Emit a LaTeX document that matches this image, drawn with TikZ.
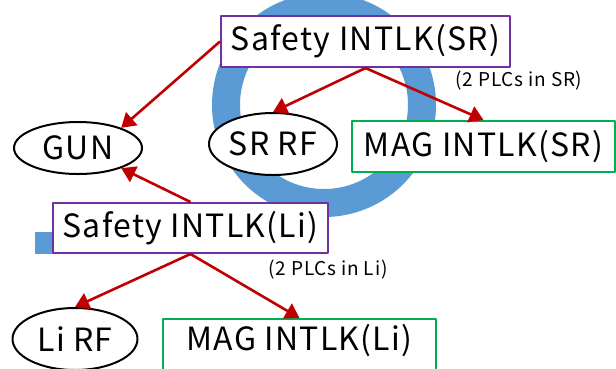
\documentclass[tikz,border=0pt]{standalone}
\usepackage{fontspec}
\setmainfont{Noto Sans CJK JP}[LetterSpace=4]
\usepackage{xcolor}
\definecolor{ringblue}{HTML}{5B9BD5}
\definecolor{plcviolet}{HTML}{7030A0}
\definecolor{maggreen}{HTML}{00B050}
\definecolor{arrred}{HTML}{C00000}
\usetikzlibrary{arrows.meta, positioning, shapes.geometric}

\begin{document}
\begin{tikzpicture}[
  x=1pt, y=-1pt,
  line join=round,
  sfbox/.style={draw=plcviolet, line width=2pt, fill=white, inner sep=0pt,
    font=\fontsize{32}{32}\selectfont},
  magbox/.style={draw=maggreen, line width=2pt, fill=white, inner sep=0pt,
    font=\fontsize{32}{32}\selectfont},
  sys/.style={ellipse, draw=black, line width=2pt, fill=white, inner sep=0pt,
    font=\fontsize{32}{32}\selectfont},
  plc/.style={font=\fontsize{19}{19}\selectfont, inner sep=0pt},
  ctl/.style={draw=arrred, line width=2.6pt, -{Triangle[length=14pt, width=17pt]}}
]
  \useasboundingbox (0,0) rectangle (616,368);
  % ring and linac
  \draw[ringblue, line width=28pt] (324,105) circle[radius=98pt];
  \fill[ringblue] (35,232) rectangle (150,254);
  % interlock boxes
  \node[sfbox, minimum width=289pt, minimum height=51pt] (sfsr) at (365.5,41.5) {Safety INTLK(SR)};
  \node[sfbox, minimum width=275pt, minimum height=50pt] (sfli) at (190.5,228) {Safety INTLK(Li)};
  \node[magbox, minimum width=263pt, minimum height=51pt] (magsr) at (483.5,146.5) {MAG INTLK(SR)};
  \node[magbox, minimum width=273pt, minimum height=51pt, text depth=14pt] (magli) at (299.5,344.5) {MAG INTLK(Li)};
  % devices
  \node[sys, minimum width=128pt, minimum height=52pt] (gun) at (78,148) {GUN};
  \node[sys, minimum width=128pt, minimum height=62pt] (srrf) at (273,144) {SR RF};
  \node[sys, minimum width=125pt, minimum height=62pt] (lirf) at (75,339) {Li RF};
  % notes
  \node[plc] (plcsr) at (519,81) {(2 PLCs in SR)};
  \node[plc] (plcli) at (328,270) {(2 PLCs in Li)};
  % connections
  \draw[ctl] (sfsr.west) -- (gun.25);
  \draw[ctl] (sfsr.south) -- (srrf.north);
  \draw[ctl] (sfsr.south) -- (magsr.north);
  \draw[ctl] (sfli.north) -- (gun.-25);
  \draw[ctl] (sfli.south) -- (lirf.north);
  \draw[ctl] (sfli.south) -- (magli.north);
\end{tikzpicture}
\end{document}
